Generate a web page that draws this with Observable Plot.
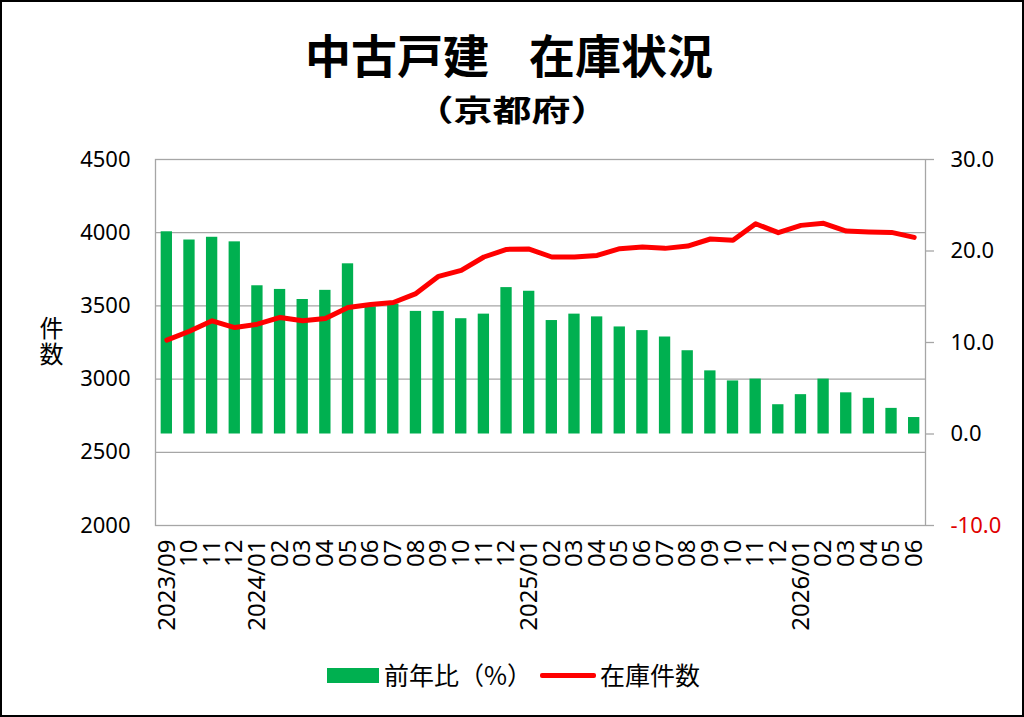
<!DOCTYPE html>
<html>
<head>
<meta charset="utf-8">
<script src="https://cdn.jsdelivr.net/npm/d3@7"></script>
<script src="https://cdn.jsdelivr.net/npm/@observablehq/plot@0.6"></script>
<style>
  html, body { margin: 0; padding: 0; background: #fff; }
  #wrap { position: relative; width: 1024px; height: 717px; overflow: hidden; background: #fff;
          font-family: "Noto Sans CJK JP", "Noto Sans", sans-serif; color: #000; }
  #border { position: absolute; left: 0; top: 0; width: 1024px; height: 717px; box-sizing: border-box;
            border: 2px solid #000; pointer-events: none; }
  .abs { position: absolute; white-space: nowrap; }
  .title { top: 30px; font-size: 46px; line-height: 46px; font-weight: 700; }
  #subtitle { left: 0; width: 1024px; top: 88px; text-align: center; font-size: 39px; line-height: 40px; font-weight: 700;
              transform: scaleY(0.76); transform-origin: 50% 50%; }
  #ylab { left: 38px; top: 316px; font-size: 24px; line-height: 26px; letter-spacing: 2px; writing-mode: vertical-rl; }
  #chart { position: absolute; left: 0; top: 139px; }
  .legtext { font-size: 25px; line-height: 25px; top: 662px; }
</style>
</head>
<body>
<div id="wrap">
  <div class="abs title" style="left:305px;">中古戸建</div>
  <div class="abs title" style="left:529px;">在庫状況</div>
  <div id="subtitle" class="abs">（京都府）</div>
  <div id="ylab" class="abs">件数</div>
  <div id="chart"></div>
  <div class="abs" style="left:327px;top:668px;width:52px;height:15px;background:#00b050;"></div>
  <div class="abs legtext" style="left:384px;">前年比（%）</div>
  <div class="abs" style="left:540px;top:673px;width:56px;height:5px;background:#ff0000;border-radius:2px;"></div>
  <div class="abs legtext" style="left:600px;">在庫件数</div>
  <div id="border"></div>
</div>
<script>
// Categories (unique month keys) and their displayed tick labels
const months = [
  "2023/09","2023/10","2023/11","2023/12",
  "2024/01","2024/02","2024/03","2024/04","2024/05","2024/06","2024/07","2024/08","2024/09","2024/10","2024/11","2024/12",
  "2025/01","2025/02","2025/03","2025/04","2025/05","2025/06","2025/07","2025/08","2025/09","2025/10","2025/11","2025/12",
  "2026/01","2026/02","2026/03","2026/04","2026/05","2026/06"
];
const xTickLabels = [
  "2023/09","10","11","12",
  "2024/01","02","03","04","05","06","07","08","09","10","11","12",
  "2025/01","02","03","04","05","06","07","08","09","10","11","12",
  "2026/01","02","03","04","05","06"
];
// 前年比（%） — right axis
const yoyPct = [
  22.1, 21.2, 21.5, 21.0,
  16.2, 15.8, 14.7, 15.7, 18.6, 13.9, 14.2, 13.4, 13.4, 12.6, 13.1, 16.0,
  15.6, 12.4, 13.1, 12.8, 11.7, 11.3, 10.6, 9.1, 6.9, 5.8, 6.0, 3.2,
  4.3, 6.0, 4.5, 3.9, 2.8, 1.8
];
// 在庫件数 — left axis
const stockCount = [
  3266, 3327, 3398, 3352,
  3375, 3421, 3398, 3414, 3489, 3509, 3523, 3584, 3702, 3743, 3834, 3886,
  3888, 3834, 3834, 3845, 3891, 3902, 3893, 3909, 3957, 3948, 4061, 4000,
  4050, 4064, 4011, 4005, 4002, 3968
];
const leftTicks = [2000, 2500, 3000, 3500, 4000, 4500];
const rightTicks = [-10, 0, 10, 20, 30];
const leftDomain = [2000, 4500];
const rightDomain = [-10, 30];

// map right-axis (%) values onto the left-axis y scale
const k = (leftDomain[1] - leftDomain[0]) / (rightDomain[1] - rightDomain[0]);
const toLeft = p => leftDomain[0] + (p - rightDomain[0]) * k;
const toRight = v => (v - leftDomain[0]) / k + rightDomain[0];

const data = months.map((m, i) => ({month: m, yoy: yoyPct[i], stock: stockCount[i]}));
const labelOf = new Map(months.map((m, i) => [m, xTickLabels[i]]));
const gridGray = "#a6a6a6";
const numFont = "'Noto Sans', 'Open Sans', sans-serif";

const plot = Plot.plot({
  width: 1024,
  height: 501,
  marginLeft: 155,
  marginRight: 99,
  marginTop: 20,
  marginBottom: 115,
  style: {fontFamily: numFont, fontSize: "22px", color: "#000", background: "transparent", overflow: "visible"},
  x: {type: "band", domain: months, paddingInner: 0.5, paddingOuter: 0.25, round: false},
  y: {domain: leftDomain},
  marks: [
    Plot.gridY(leftTicks.slice(1, -1), {stroke: gridGray, strokeOpacity: 1, strokeWidth: 1.3}),
    Plot.barY(data, {x: "month", y1: toLeft(0), y2: d => toLeft(d.yoy), fill: "#00b050"}),
    Plot.line(data, {x: "month", y: "stock", stroke: "#ff0000", strokeWidth: 5, strokeLinejoin: "round", strokeLinecap: "round"}),
    Plot.frame({stroke: gridGray, strokeWidth: 1.3}),
    Plot.axisY(leftTicks, {anchor: "left", tickSize: 0, tickPadding: 25, label: null, fontSize: 22, fill: "#000",
      tickFormat: v => String(v)}),
    Plot.axisY(rightTicks.filter(p => p >= 0).map(toLeft), {
      anchor: "right", tickSize: 8, tickPadding: 17, label: null, fontSize: 22,
      stroke: gridGray, strokeWidth: 1.3, fill: "#000", tickFormat: v => toRight(v).toFixed(1)
    }),
    Plot.axisY(rightTicks.filter(p => p < 0).map(toLeft), {
      anchor: "right", tickSize: 8, tickPadding: 17, label: null, fontSize: 22,
      stroke: gridGray, strokeWidth: 1.3, fill: "#e00000", tickFormat: v => toRight(v).toFixed(1)
    }),
    Plot.axisX({tickRotate: -90, tickSize: 0, tickPadding: 14, label: null, fontSize: 24, fill: "#000",
      tickFormat: m => labelOf.get(m)})
  ]
});
document.getElementById("chart").appendChild(plot);
</script>
</body>
</html>
